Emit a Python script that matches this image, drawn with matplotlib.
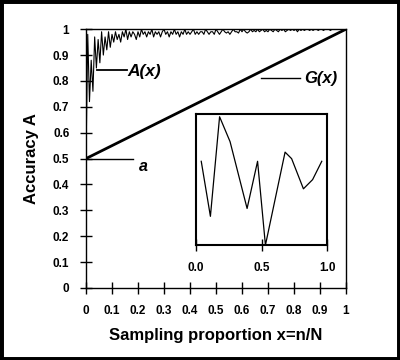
import numpy as np
import matplotlib
matplotlib.use('Agg')
import matplotlib.pyplot as plt
from matplotlib.patches import Rectangle

plt.rcParams['font.family'] = ['Liberation Sans', 'DejaVu Sans']
plt.rcParams['font.weight'] = 'bold'

# main curve A(x) on a regular grid 0..1
a_values = [
    0.50, 0.98, 0.72, 0.88, 0.76, 0.97, 0.85, 0.96, 0.87, 0.99,
    0.90, 0.97, 0.92, 0.99, 0.93, 0.98, 0.95, 0.99, 0.96, 0.98,
    0.95, 0.99, 0.97, 1.00, 0.96, 0.99, 0.97, 0.99, 0.98, 0.96,
    0.99, 0.97, 1.00, 0.98, 0.99, 0.97, 0.99, 0.98, 1.00, 0.97,
    0.99, 0.98, 0.99, 0.97, 0.99, 1.00, 0.98, 0.99, 0.97, 0.99,
    0.98, 1.00, 0.98, 0.99, 0.97, 0.99, 0.98, 1.00, 0.98, 0.99,
    0.98, 0.99, 1.00, 0.98, 0.99, 0.98, 0.99, 0.99, 0.98, 1.00,
    0.99, 0.98, 0.99, 0.99, 0.98, 1.00, 0.99, 0.98, 0.99, 1.00,
    0.99, 0.985, 0.99, 0.98, 0.99, 1.00, 0.99, 0.99, 0.985, 1.00,
    0.99, 1.00, 0.99, 0.985, 0.99, 1.00, 0.99, 0.995, 0.99, 1.00,
    0.99, 0.995, 1.00, 0.99, 0.995, 0.99, 1.00, 0.995, 0.99, 1.00,
    0.995, 0.99, 1.00, 0.995, 1.00, 0.99, 0.995, 1.00, 0.995, 1.00,
    0.995, 1.00, 0.99, 1.00, 0.995, 1.00, 0.995, 1.00, 1.00, 0.995,
    1.00, 0.995, 1.00, 1.00, 0.995, 1.00, 1.00, 0.995, 1.00, 1.00,
    1.00, 0.995, 1.00, 1.00, 1.00, 1.00, 1.00, 1.00, 1.00, 1.00,
    1.00,
]
a_x = np.linspace(0, 1, len(a_values))

# straight line G(x)
g_x = [0.0, 1.0]
g_y = [0.5, 1.0]

# inset curve
ins_x = [0.04, 0.11, 0.18, 0.26, 0.39, 0.47, 0.53, 0.68, 0.73, 0.82, 0.89, 0.96]
ins_y = [0.64, 0.22, 0.98, 0.79, 0.28, 0.64, 0.00, 0.71, 0.66, 0.43, 0.50, 0.64]

ticks = [0, 0.1, 0.2, 0.3, 0.4, 0.5, 0.6, 0.7, 0.8, 0.9, 1]
tick_labels = ['0', '0.1', '0.2', '0.3', '0.4', '0.5', '0.6', '0.7', '0.8', '0.9', '1']

fig = plt.figure(figsize=(4, 3.6), dpi=100)
fig.patches.append(Rectangle((0, 0), 1, 1, transform=fig.transFigure,
                             fill=False, edgecolor='black', linewidth=5))

ax = fig.add_axes([0.215, 0.2, 0.65, 0.719])
ax.plot(a_x, a_values, color='black', linewidth=0.8)
ax.plot(g_x, g_y, color='black', linewidth=2)
ax.set_xlim(0, 1)
ax.set_ylim(0, 1)
ax.set_xticks(ticks)
ax.set_xticklabels(tick_labels)
ax.set_yticks(ticks)
ax.set_yticklabels(tick_labels)
ax.tick_params(direction='inout', length=8, width=1, labelsize=8.5, pad=8)
for lab in ax.get_xticklabels() + ax.get_yticklabels():
    lab.set_fontweight('bold')
for sp in ax.spines.values():
    sp.set_linewidth(1)
ax.set_xlabel('Sampling proportion x=n/N', fontsize=12, fontweight='bold', labelpad=8)
ax.set_ylabel('Accuracy A', fontsize=12, fontweight='bold', labelpad=10)

# labels with leader lines
ax.plot([0.042, 0.158], [0.842, 0.842], color='black', linewidth=1.3)
ax.text(0.16, 0.835, 'A(x)', fontsize=12.5, fontweight='bold', style='italic', va='center')
ax.plot([0.673, 0.823], [0.811, 0.811], color='black', linewidth=1)
ax.text(0.84, 0.808, 'G(x)', fontsize=12, fontweight='bold', style='italic', va='center')
ax.plot([0.0, 0.18], [0.5, 0.5], color='black', linewidth=1)
ax.text(0.205, 0.47, 'a', fontsize=11.5, fontweight='bold', style='italic', va='center')

# inset
ins = fig.add_axes([0.49, 0.319, 0.3275, 0.364])
ins.plot(ins_x, ins_y, color='black', linewidth=0.9)
ins.set_xlim(0, 1)
ins.set_ylim(0, 1)
ins.set_xticks([0, 0.5, 1])
ins.set_xticklabels(['0.0', '0.5', '1.0'])
ins.set_yticks([])
ins.tick_params(direction='inout', length=8, width=1, labelsize=8.5, pad=8)
for lab in ins.get_xticklabels():
    lab.set_fontweight('bold')
for sp in ins.spines.values():
    sp.set_linewidth(1.5)

plt.savefig('out.png', dpi=100)
